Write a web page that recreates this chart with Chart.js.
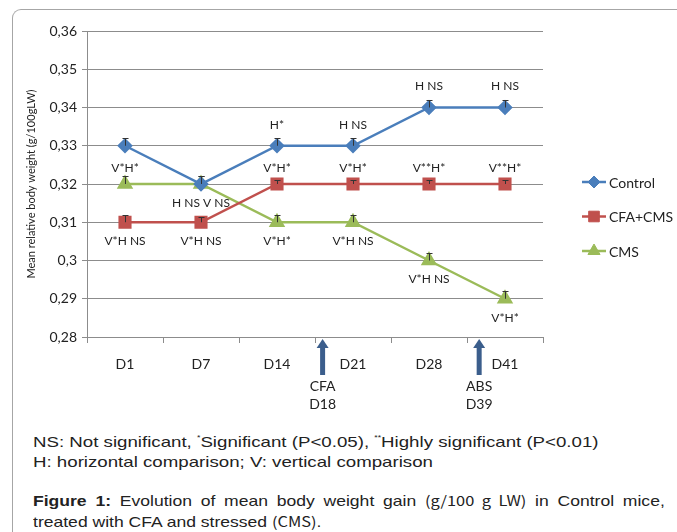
<!DOCTYPE html>
<html>
<head>
<meta charset="utf-8">
<script src="https://cdn.jsdelivr.net/npm/chart.js@4"></script>
<style>
  html, body { margin: 0; padding: 0; background: #fff; }
  body { width: 677px; height: 532px; position: relative; overflow: hidden; font-family: "Liberation Sans", Arial, sans-serif; }
  .frame { position: absolute; left: 12px; top: 9px; width: 700px; height: 600px;
           border-left: 1px solid #a6a6a6; border-top: 1px solid #a6a6a6; border-top-left-radius: 9px; }
  #wrap { position: absolute; left: 0; top: 0; width: 677px; height: 415px; }
  .notes { position: absolute; left: 33px; top: 428px; font-size: 15px; line-height: 20px; color: #222;
           white-space: nowrap; transform: scaleX(1.245); transform-origin: 0 0; }
  .notes sup { font-size: 7px; vertical-align: 7px; }
  .caption { position: absolute; left: 33px; top: 490px; width: 540px; font-size: 15px; line-height: 20px; color: #222;
             transform: scaleX(1.17); transform-origin: 0 0; }
  .caption .l1 { text-align: justify; text-align-last: justify; white-space: nowrap; }
  .caption b { font-weight: bold; }
  .cjk { font-family: "Noto Sans CJK JP", sans-serif; font-size: 14px; }
</style>
</head>
<body>
<div class="frame"></div>
<div id="wrap"><canvas id="chart" width="677" height="415"></canvas></div>
<div class="notes">NS: Not significant, <sup>*</sup>Significant (P&lt;0.05), <sup>**</sup>Highly significant (P&lt;0.01)<br>H: horizontal comparison; V: vertical comparison</div>
<div class="caption"><div class="l1"><b>Figure 1:</b> Evolution of mean body weight gain <span class="cjk">(g/100 g LW)</span> in Control mice,</div><div>treated with CFA and stressed <span class="cjk">(CMS)</span>.</div></div>
<script>
// Days of measurement and mean relative body weight per group
const days = ['D1', 'D7', 'D14', 'D21', 'D28', 'D41'];
const control = [0.33, 0.32, 0.33, 0.33, 0.34, 0.34];
const cfaCms = [0.31, 0.31, 0.32, 0.32, 0.32, 0.32];
const cms = [0.32, 0.32, 0.31, 0.31, 0.30, 0.29];
const controlErr = [0.002, 0.002, 0.002, 0.002, 0.002, 0.002];
const cfaCmsErr = [0.002, 0.0015, 0.001, 0.001, 0.001, 0.001];
const cmsErr = [0.002, 0.002, 0.002, 0.002, 0.002, 0.002];

// Significance notes written above / below each point
const controlAbove = ['', '', 'H*', 'H NS', 'H NS', 'H NS'];
const controlBelow = ['', '', '', '', '', ''];
const cfaCmsAbove = ['', '', 'V*H*', 'V*H*', 'V**H*', 'V**H*'];
const cfaCmsBelow = ['V*H NS', 'V*H NS', '', '', '', ''];
const cmsAbove = ['V*H*', '', '', '', '', ''];
const cmsBelow = ['', 'H NS V NS', 'V*H*', 'V*H NS', 'V*H NS', 'V*H*'];

// Treatment events marked under the x axis (position in category units)
const eventNames = [['CFA', 'D18'], ['ABS', 'D39']];
const eventAt = [2.6, 4.66];

const yTicks = [0.28, 0.29, 0.30, 0.31, 0.32, 0.33, 0.34, 0.35, 0.36];

const FONT = 'Lato, "Open Sans", sans-serif';
const GRID = '#8c8c8c';

function fmt(v) {
  return String(Math.round(v * 100) / 100).replace('.', ',');
}

// error bars: stem up from the point with a small cap
const errorBars = {
  id: 'errorBars',
  afterDatasetsDraw(chart) {
    const ctx = chart.ctx;
    const y = chart.scales.y;
    ctx.save();
    ctx.strokeStyle = '#333';
    ctx.lineWidth = 1;
    chart.data.datasets.forEach((ds, di) => {
      const meta = chart.getDatasetMeta(di);
      meta.data.forEach((pt, i) => {
        const top = Math.round(y.getPixelForValue(ds.data[i] + ds.err[i])) + 0.5;
        const px = Math.round(pt.x) + 0.5;
        ctx.beginPath();
        ctx.moveTo(px, pt.y);
        ctx.lineTo(px, top);
        ctx.moveTo(px - 3, top);
        ctx.lineTo(px + 3, top);
        ctx.stroke();
      });
    });
    ctx.restore();
  },
};

// point notes
const notes = {
  id: 'notes',
  afterDatasetsDraw(chart) {
    const ctx = chart.ctx;
    ctx.save();
    ctx.font = '12px ' + FONT;
    ctx.fillStyle = '#222';
    ctx.textAlign = 'center';
    ctx.textBaseline = 'middle';
    chart.data.datasets.forEach((ds, di) => {
      const meta = chart.getDatasetMeta(di);
      meta.data.forEach((pt, i) => {
        if (ds.above[i]) ctx.fillText(ds.above[i], pt.x, pt.y - ds.aboveGap);
        if (ds.below[i]) ctx.fillText(ds.below[i], pt.x, pt.y + 19);
      });
    });
    ctx.restore();
  },
};

// arrows + labels under the category axis
const events = {
  id: 'events',
  afterDraw(chart) {
    const ctx = chart.ctx;
    const x = chart.scales.x;
    const base = chart.chartArea.bottom;
    ctx.save();
    eventAt.forEach((at, k) => {
      const px = x.getPixelForValue(at);
      ctx.fillStyle = '#3b5e8c';
      ctx.fillRect(px - 2.5, base + 10, 5, 28);
      ctx.beginPath();
      ctx.moveTo(px - 6, base + 11);
      ctx.lineTo(px, base + 2);
      ctx.lineTo(px + 6, base + 11);
      ctx.closePath();
      ctx.fill();
      ctx.fillStyle = '#222';
      ctx.font = '14px ' + FONT;
      ctx.textAlign = 'center';
      ctx.textBaseline = 'middle';
      eventNames[k].forEach((t, j) => ctx.fillText(t, px, base + 49 + j * 18));
    });
    ctx.restore();
  },
};

// Excel-like legend: line segment with marker
const sideLegend = {
  id: 'sideLegend',
  afterDraw(chart) {
    const ctx = chart.ctx;
    ctx.save();
    chart.data.datasets.forEach((ds, di) => {
      const cy = 182 + di * 34.5;
      ctx.strokeStyle = ds.borderColor;
      ctx.lineWidth = 2.5;
      ctx.beginPath();
      ctx.moveTo(582, cy);
      ctx.lineTo(606, cy);
      ctx.stroke();
      ctx.fillStyle = ds.backgroundColor;
      ctx.lineWidth = 1;
      Chart.helpers.drawPoint(ctx, { pointStyle: ds.pointStyle, radius: ds.pointRadius, rotation: 0, borderWidth: 1 }, 594, cy);
      ctx.fillStyle = '#222';
      ctx.font = '14px ' + FONT;
      ctx.textAlign = 'left';
      ctx.textBaseline = 'middle';
      ctx.fillText(ds.label, 609, cy + 1);
    });
    ctx.restore();
  },
};

function series(label, data, err, above, below, color, style, r, aboveGap) {
  return {
    label, data, err, above, below, aboveGap,
    borderColor: color, backgroundColor: color,
    pointBackgroundColor: color, pointBorderColor: color,
    pointStyle: style, pointRadius: r, pointHoverRadius: r,
    borderWidth: 2.5, tension: 0, fill: false,
  };
}

new Chart(document.getElementById('chart'), {
  type: 'line',
  data: {
    labels: days,
    datasets: [
      series('Control', control, controlErr, controlAbove, controlBelow, '#4a7ebb', 'rectRot', 6, 21),
      series('CFA+CMS', cfaCms, cfaCmsErr, cfaCmsAbove, cfaCmsBelow, '#c0504d', 'rect', 7.5, 16),
      series('CMS', cms, cmsErr, cmsAbove, cmsBelow, '#9bbb59', 'triangle', 7, 16),
    ],
  },
  options: {
    responsive: false,
    animation: false,
    layout: { padding: { top: 31, right: 134, left: 0, bottom: 0 } },
    scales: {
      x: {
        offset: true,
        grid: { offset: true, drawOnChartArea: false, color: GRID, tickLength: 6 },
        border: { color: GRID },
        ticks: { color: '#222', font: { family: FONT, size: 14 }, padding: 13 },
        afterFit(scale) { scale.height = 78; },
      },
      y: {
        min: 0.28, max: 0.36,
        afterBuildTicks(scale) { scale.ticks = yTicks.map((v) => ({ value: v })); },
        grid: { color: GRID, tickLength: 5 },
        border: { color: GRID },
        ticks: { color: '#222', font: { family: FONT, size: 14 }, padding: 5, callback: fmt },
        title: {
          display: true, text: 'Mean relative body weight (g/100gLW)',
          color: '#222', font: { family: FONT, size: 11 }, padding: { top: 25, bottom: 4 },
        },
        afterFit(scale) { scale.width = 87; },
      },
    },
    plugins: { legend: { display: false }, tooltip: { enabled: false } },
  },
  plugins: [errorBars, notes, events, sideLegend],
});
</script>
</body>
</html>
